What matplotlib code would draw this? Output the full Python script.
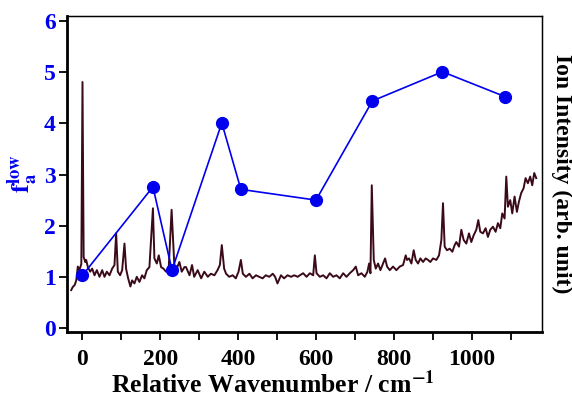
import matplotlib
matplotlib.use('Agg')
import matplotlib.pyplot as plt
import numpy as np

plt.rcParams['font.family'] = ['Liberation Serif', 'DejaVu Serif']
plt.rcParams['font.weight'] = 'bold'
plt.rcParams['mathtext.fontset'] = 'stix'

#### f_a^low points (blue)
wn_pts = [0, 181, 230, 358, 407, 600, 745, 925, 1087]
fa_low = [1.03, 2.76, 1.13, 4.01, 2.71, 2.50, 4.44, 5.01, 4.52]

#### ion intensity spectrum
spec_x = [-29, -25, -20, -16, -12, -8, -3, 0, 3, 7, 9.5, 13.8, 19.8, 24.9, 30.9, 36.9,
          43.7, 50.6, 56.6, 62.5, 69.4, 76.2, 82.2, 86.5, 90.8, 96.7, 101.9, 107.9, 112,
          117.3, 123.2, 127.5, 133.5, 139.5, 146.3, 153.2, 159, 165.2, 172, 181, 184.8,
          190.9, 196, 202, 208, 214.8, 221.7, 229, 236, 242, 249, 255, 262, 266, 275,
          281.5, 287, 296, 305, 313, 322, 330, 339, 347, 353, 358, 364, 369, 377, 386,
          394, 401, 407, 412, 420, 429, 437, 446, 454, 463, 471, 480, 489, 495, 501, 510,
          518, 527, 536, 544, 553, 558.6, 567.1, 575.7, 584.3, 592.8, 597.1, 601.4,
          609.9, 618.5, 627.0, 635.6, 644.1, 652.7, 661.2, 669.8, 678.4, 686.9, 695.5,
          702.3, 708.3, 716.9, 725.4, 732.2, 736.5, 740, 743.4, 748.5, 753.6, 759.6,
          765.6, 772.5, 777.6, 782.7, 789.6, 798.1, 806.7, 815.2, 823.8, 830.6, 834.0,
          839.2, 845.2, 851.1, 856.3, 862.3, 868.3, 875.1, 882.0, 887.9, 893.9, 900.8,
          909.3, 916.2, 922.2, 926.4, 930.7, 936.7, 943.5, 950.4, 956.4, 960.6, 967.5,
          973.5, 979.5, 986.3, 993.2, 999.1, 1005.1, 1012, 1017.1, 1022.2, 1029.1,
          1035.9, 1041.9, 1047.9, 1054.7, 1061.6, 1067.6, 1073.6, 1078.7, 1084.7, 1089,
          1093.2, 1099.2, 1104.4, 1110.3, 1116.3, 1121.5, 1127.4, 1133.4, 1138.6, 1144.5,
          1150.5, 1155.7, 1160.8, 1166]
spec_y = [0.74, 0.80, 0.84, 0.93, 1.20, 1.13, 1.25, 4.81, 1.39, 1.29, 1.33, 1.19, 1.10,
          1.16, 1.03, 1.13, 1.00, 1.13, 1.00, 1.10, 1.03, 1.16, 1.23, 1.85, 1.10, 1.03,
          1.13, 1.65, 1.16, 0.97, 0.81, 0.93, 0.87, 1.00, 0.90, 1.03, 0.97, 1.13, 1.19,
          2.34, 1.36, 1.26, 1.42, 1.19, 1.16, 1.10, 1.19, 2.31, 1.23, 1.16, 1.29, 1.10,
          1.19, 1.19, 1.03, 1.23, 1.00, 1.13, 0.97, 1.10, 1.00, 1.06, 1.03, 1.13, 1.23,
          1.62, 1.16, 1.06, 1.00, 1.03, 0.97, 1.10, 1.33, 1.06, 1.00, 1.06, 0.97, 1.03,
          1.00, 0.97, 1.03, 1.00, 1.06, 1.00, 0.87, 1.03, 0.97, 1.03, 1.00, 1.03, 1.00,
          1.03, 1.07, 1.00, 1.07, 1.03, 1.42, 1.07, 1.00, 1.03, 0.97, 1.07, 1.00, 1.03,
          0.97, 1.07, 1.00, 1.07, 1.13, 1.20, 1.03, 1.07, 1.00, 1.10, 1.26, 1.07, 2.79,
          1.33, 1.16, 1.26, 1.13, 1.26, 1.36, 1.20, 1.13, 1.20, 1.13, 1.20, 1.23, 1.42,
          1.33, 1.36, 1.26, 1.52, 1.33, 1.26, 1.36, 1.29, 1.36, 1.33, 1.29, 1.36, 1.33,
          1.42, 1.72, 2.44, 1.59, 1.52, 1.55, 1.49, 1.62, 1.68, 1.59, 1.92, 1.72, 1.65,
          1.85, 1.68, 1.81, 1.92, 2.11, 1.88, 1.85, 1.95, 1.78, 1.92, 1.98, 1.88, 2.05,
          1.95, 2.24, 2.14, 2.96, 2.37, 2.50, 2.24, 2.57, 2.27, 2.47, 2.64, 2.73, 2.93,
          2.83, 2.96, 2.79, 3.03, 2.93]

blue = '#0000ee'

fig = plt.figure(figsize=(5.72, 4.01), dpi=100)
ax = fig.add_axes([0.117, 0.172, 0.83, 0.788])

ax.plot(spec_x, spec_y, color='#3b0a18', lw=1.4, zorder=2)
ax.plot(wn_pts, fa_low, color=blue, lw=1.2, marker='o', ms=8.5, zorder=3)

ax.set_xlim(-40, 1180)
ax.set_ylim(-0.08, 6.1)

ax.set_xticks(np.arange(0, 1001, 200))
ax.set_xticks(np.arange(100, 1101, 200), minor=True)
ax.set_yticks(np.arange(0, 7, 1))
ax.tick_params(axis='both', which='both', direction='out', length=6, width=1.3)
ax.tick_params(axis='x', labelsize=17, pad=6)
ax.tick_params(axis='y', labelsize=17, labelcolor=blue, pad=2)

for side in ['left', 'bottom']:
    ax.spines[side].set_linewidth(2)
for side in ['top', 'right']:
    ax.spines[side].set_linewidth(1)

ax.set_xlabel('Relative Wavenumber / cm$^{\\mathbf{-1}}$', fontsize=18.5, fontweight='bold')
ax.xaxis.set_label_coords(0.434, -0.122)
ax.set_ylabel('$\\mathbf{f}_{\\mathbf{a}}^{\\mathbf{low}}$', fontsize=19, color=blue)
ax.yaxis.set_label_coords(-0.056, 0.50)

ax2 = ax.twinx()
ax2.set_ylim(ax.get_ylim())
ax2.set_yticks([])
ax2.set_ylabel('Ion Intensity (arb. unit)', fontsize=17, fontweight='bold', rotation=-90, labelpad=22)

fig.savefig('out.png', dpi=100)
